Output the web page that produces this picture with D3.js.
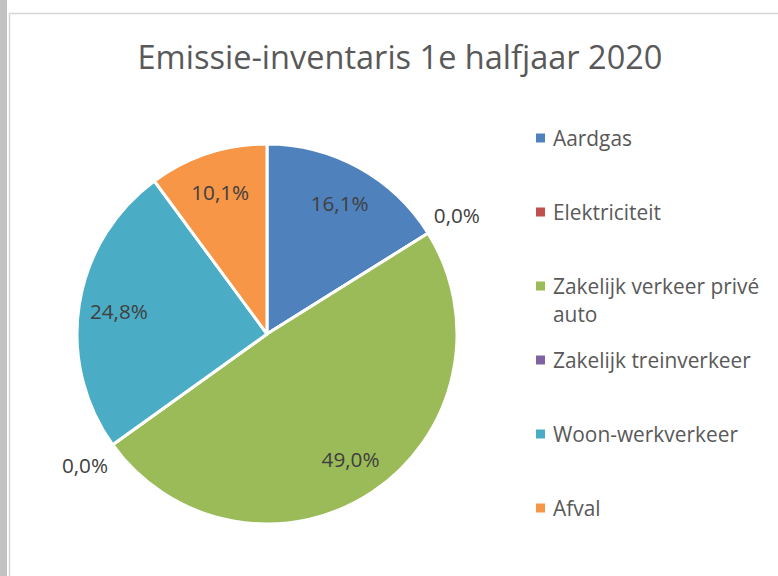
<!DOCTYPE html>
<html>
<head>
<meta charset="utf-8">
<script src="https://cdn.jsdelivr.net/npm/d3@7"></script>
<style>
  body { margin: 0; background: #fff; }
  svg { display: block; }
  text { font-family: "Open Sans", sans-serif; }
</style>
</head>
<body>
<svg id="chart" width="778" height="576"></svg>
<script>
// Chart data
const title = "Emissie-inventaris 1e halfjaar 2020";
const categories = ["Aardgas", "Elektriciteit", "Zakelijk verkeer privé auto",
    "Zakelijk treinverkeer", "Woon-werkverkeer", "Afval"];
const shares = [16.1, 0.0, 49.0, 0.0, 24.8, 10.1];
const colors = ["#4f81bd", "#c0504d", "#9bbb59", "#8064a2", "#4bacc6", "#f79646"];

const svg = d3.select("#chart");
const cx = 267, cy = 334, radius = 190;

// stretch a text to a given width (font sizes)
function fitText(sel, target) {
    const w = sel.node().getComputedTextLength();
    const fs = parseFloat(sel.style("font-size"));
    const size = fs * target / w;
    sel.style("font-size", size + "px");
    return size;
}

// window frame
svg.append("rect").attr("x", 0).attr("y", 0).attr("width", 7).attr("height", 576).attr("fill", "#c2c2c2");
svg.append("line").attr("x1", 9.5).attr("y1", 13).attr("x2", 9.5).attr("y2", 576)
    .attr("stroke", "#d6d6d6").attr("stroke-width", 1.5);
svg.append("line").attr("x1", 9).attr("y1", 13.5).attr("x2", 778).attr("y2", 13.5)
    .attr("stroke", "#d6d6d6").attr("stroke-width", 1.5);

// title
const titleText = svg.append("text")
    .attr("x", 400).attr("y", 69)
    .attr("text-anchor", "middle")
    .attr("fill", "#595959")
    .style("font-size", "30px")
    .text(title);
fitText(titleText, 525);

// pie
const data = categories.map((c, i) => ({ name: c, value: shares[i], color: colors[i] }));
const pie = d3.pie().sort(null).value(d => d.value);
const arcs = pie(data);
const arc = d3.arc().innerRadius(0).outerRadius(radius);

const g = svg.append("g").attr("transform", `translate(${cx},${cy})`);
g.selectAll("path.slice")
    .data(arcs)
    .join("path")
    .attr("class", "slice")
    .attr("d", arc)
    .attr("fill", d => d.data.color)
    .attr("stroke", "#fff")
    .attr("stroke-width", 3)
    .attr("stroke-linejoin", "round");

// data labels
const fmt = v => d3.format(".1f")(v).replace(".", ",") + "%";
const innerArc = d3.arc().innerRadius(150 * 2 - 150).outerRadius(150);
const labels = g.selectAll("text.lbl")
    .data(arcs)
    .join("text")
    .attr("class", "lbl")
    .attr("text-anchor", "middle")
    .attr("dominant-baseline", "central")
    .attr("fill", "#404040")
    .style("font-size", "20px")
    .text(d => fmt(d.data.value));

const lblSize = fitText(labels.filter((d, i) => i === 0), 58);
labels.style("font-size", lblSize + "px")
    .attr("x", d => {
        if (d.data.value === 0) return Math.sin(d.startAngle) * 224;
        return innerArc.centroid(d)[0];
    })
    .attr("y", d => {
        if (d.data.value === 0) return -Math.cos(d.startAngle) * 224;
        return innerArc.centroid(d)[1];
    });

// legend
const ly = d3.scalePoint().domain(categories).range([138, 508]);
const legend = svg.append("g");
const items = legend.selectAll("g.item")
    .data(data)
    .join("g")
    .attr("class", "item")
    .attr("transform", d => `translate(0,${ly(d.name)})`);

items.append("rect")
    .attr("x", 536).attr("y", -4.5)
    .attr("width", 9).attr("height", 9)
    .attr("fill", d => d.color);

const legendTexts = items.append("text")
    .attr("x", 553).attr("y", 0)
    .attr("dominant-baseline", "central")
    .attr("fill", "#595959")
    .style("font-size", "20px")
    .text(d => d.name);

const legSize = fitText(legendTexts.filter(d => d.name === "Zakelijk treinverkeer"), 198);
legendTexts.style("font-size", legSize + "px");

// wrap long entries
const maxW = 212, lineH = 28;
legendTexts.each(function(d) {
    const t = d3.select(this);
    if (this.getComputedTextLength() <= maxW) return;
    const words = d.name.split(" ");
    t.text(null);
    let line = [], lineNo = 0;
    let tspan = t.append("tspan").attr("x", 553).attr("dy", 0);
    words.forEach(w => {
        line.push(w);
        tspan.text(line.join(" "));
        if (tspan.node().getComputedTextLength() > maxW && line.length > 1) {
            line.pop();
            tspan.text(line.join(" "));
            line = [w];
            lineNo++;
            tspan = t.append("tspan").attr("x", 553).attr("dy", lineH).text(w);
        }
    });
});
</script>
</body>
</html>
